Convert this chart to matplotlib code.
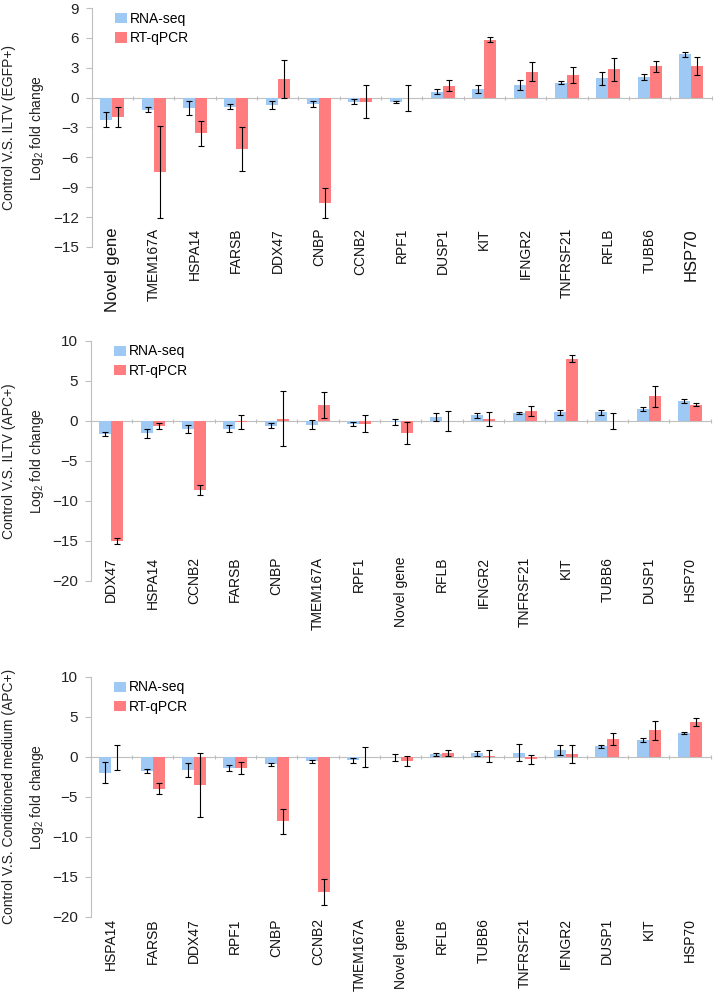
import matplotlib
matplotlib.use("Agg")
import matplotlib.pyplot as plt
import matplotlib.transforms as mtransforms
import numpy as np

plt.rcParams["font.family"] = ["Liberation Sans", "DejaVu Sans"]
plt.rcParams["mathtext.default"] = "regular"

# panel 1: Control vs ILTV (EGFP+)
genes1 = ["Novel gene", "TMEM167A", "HSPA14", "FARSB", "DDX47", "CNBP", "CCNB2", "RPF1",
          "DUSP1", "KIT", "IFNGR2", "TNFRSF21", "RFLB", "TUBB6", "HSP70"]
rna1 = [-2.2, -1.2, -1.04, -0.9, -0.77, -0.64, -0.4, -0.43, 0.6, 0.87, 1.24, 1.5, 1.94, 2.1, 4.35]
rna1_err = [0.73, 0.22, 0.67, 0.28, 0.42, 0.3, 0.23, 0.07, 0.22, 0.4, 0.48, 0.13, 0.67, 0.3, 0.23]
qpcr1 = [-1.97, -7.46, -3.58, -5.12, 1.9, -10.57, -0.4, -0.05, 1.2, 5.82, 2.6, 2.24, 2.84, 3.14, 3.14]
qpcr1_err = [1.03, 4.65, 1.27, 2.2, 1.89, 1.5, 1.67, 1.3, 0.53, 0.28, 0.94, 0.82, 1.17, 0.53, 0.9]

# panel 2: Control vs ILTV (APC+)
genes2 = ["DDX47", "HSPA14", "CCNB2", "FARSB", "CNBP", "TMEM167A", "RPF1", "Novel gene",
          "RFLB", "IFNGR2", "TNFRSF21", "KIT", "TUBB6", "DUSP1", "HSP70"]
rna2 = [-1.67, -1.58, -1.08, -1.0, -0.62, -0.5, -0.46, -0.2, 0.46, 0.67, 0.96, 1.04, 1.04, 1.5, 2.46]
rna2_err = [0.25, 0.56, 0.52, 0.46, 0.27, 0.56, 0.25, 0.37, 0.46, 0.29, 0.17, 0.35, 0.33, 0.27, 0.31]
qpcr2 = [-15.04, -0.67, -8.67, -0.12, 0.25, 1.96, -0.37, -1.58, -0.04, 0.2, 1.2, 7.75, -0.05, 3.04, 2.0]
qpcr2_err = [0.42, 0.33, 0.63, 0.88, 3.44, 1.6, 1.1, 1.37, 1.19, 0.88, 0.65, 0.44, 0.96, 1.33, 0.21]

# panel 3: Control vs Conditioned medium (APC+)
genes3 = ["HSPA14", "FARSB", "DDX47", "RPF1", "CNBP", "CCNB2", "TMEM167A", "Novel gene",
          "RFLB", "TUBB6", "TNFRSF21", "IFNGR2", "DUSP1", "KIT", "HSP70"]
rna3 = [-2.0, -1.8, -1.67, -1.38, -0.96, -0.58, -0.42, -0.08, 0.29, 0.42, 0.5, 0.83, 1.29, 2.08, 2.92]
rna3_err = [1.31, 0.29, 0.85, 0.4, 0.17, 0.17, 0.31, 0.48, 0.17, 0.31, 1.04, 0.63, 0.15, 0.27, 0.13]
qpcr3 = [-0.08, -4.0, -3.5, -1.42, -8.08, -16.88, -0.05, -0.5, 0.5, 0.05, -0.33, 0.33, 2.25, 3.29, 4.33]
qpcr3_err = [1.56, 0.7, 3.98, 0.75, 1.52, 1.6, 1.25, 0.6, 0.4, 0.77, 0.6, 1.08, 0.75, 1.19, 0.54]

BLUE = "#9EC9F4"
RED = "#FF7D7F"
GRID = "#BFBFBF"

W, H = 714, 997
fig = plt.figure(figsize=(W / 100, H / 100), dpi=100)


def px_axes(left, right, top, bottom):
    return fig.add_axes([left / W, 1 - bottom / H, (right - left) / W, (bottom - top) / H])


panels = [
    dict(genes=genes1, rna=rna1, rna_err=rna1_err, qpcr=qpcr1, qpcr_err=qpcr1_err,
         box=(91.6, 711.7, 8, 247), ylim=(-15, 9), step=3, lab_y=0.08,
         title="Control V.S. ILTV (EGFP+)", big=["Novel gene", "HSP70"]),
    dict(genes=genes2, rna=rna2, rna_err=rna2_err, qpcr=qpcr2, qpcr_err=qpcr2_err,
         box=(90.5, 710.7, 340.7, 580.7), ylim=(-20, 10), step=5, lab_y=0.099,
         title="Control V.S. ILTV (APC+)", big=[]),
    dict(genes=genes3, rna=rna3, rna_err=rna3_err, qpcr=qpcr3, qpcr_err=qpcr3_err,
         box=(90.5, 710.7, 676.7, 916.7), ylim=(-20, 10), step=5, lab_y=-0.006,
         title="Control V.S. Conditioned medium (APC+)", big=[]),
]

bw = 0.29
for p in panels:
    left, right, top, bottom = p["box"]
    ax = px_axes(left, right, top, bottom)
    x = np.arange(len(p["genes"]))
    ax.bar(x - bw / 2, p["rna"], width=bw, color=BLUE, label="RNA-seq", zorder=2)
    ax.bar(x + bw / 2, p["qpcr"], width=bw, color=RED, label="RT-qPCR", zorder=2)
    ax.errorbar(x - bw / 2, p["rna"], yerr=p["rna_err"], fmt="none", ecolor="black",
                elinewidth=0.8, capsize=2.5, capthick=0.8, zorder=3)
    ax.errorbar(x + bw / 2, p["qpcr"], yerr=p["qpcr_err"], fmt="none", ecolor="black",
                elinewidth=0.8, capsize=2.5, capthick=0.8, zorder=3)

    lo, hi = p["ylim"]
    ax.set_ylim(lo, hi)
    ax.set_xlim(-0.5, len(x) - 0.5)
    ax.set_yticks(np.arange(lo, hi + 0.1, p["step"]))
    ax.tick_params(axis="y", length=4, width=0.8, color=GRID, labelsize=11,
                   labelcolor="#222222", pad=5)

    for s in ["top", "right"]:
        ax.spines[s].set_visible(False)
    ax.spines["left"].set_color(GRID)
    ax.spines["left"].set_linewidth(0.8)
    ax.spines["bottom"].set_position(("data", 0))
    ax.spines["bottom"].set_color(GRID)
    ax.spines["bottom"].set_linewidth(0.8)
    ax.spines["bottom"].set_zorder(1)
    ax.set_xticks([])
    ax.set_xticks(np.arange(len(x) + 1) - 0.5, minor=True)
    ax.tick_params(axis="x", which="minor", length=3, direction="inout", color=GRID, width=0.8)

    trans = mtransforms.blended_transform_factory(ax.transData, ax.transAxes)
    for xi, g in zip(x, p["genes"]):
        fs = 12 if g in p["big"] else 10
        ax.text(xi, p["lab_y"], g, transform=trans, rotation=90, ha="center", va="top",
                fontsize=fs, color="#111111", clip_on=False)

    ax.legend(loc="upper left", bbox_to_anchor=(0.036, 0.99), frameon=False, fontsize=10,
              handlelength=0.85, handleheight=0.75, handletextpad=0.2, labelspacing=0.4,
              borderpad=0.1, borderaxespad=0)

    yc = 1 - (top + bottom) / 2 / H
    fig.text(9 / W, yc, p["title"], rotation=90, ha="center", va="center", fontsize=10,
             color="#222222")
    fig.text(37 / W, yc, "Log$_2$ fold change", rotation=90, ha="center", va="center",
             fontsize=10, color="#222222")

fig.savefig("out.png", dpi=100, facecolor="white")
